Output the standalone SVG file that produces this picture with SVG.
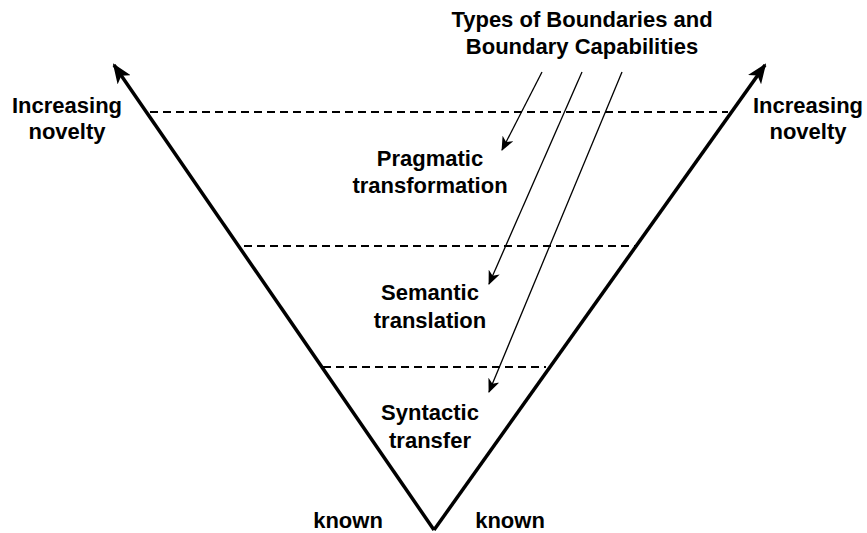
<svg xmlns="http://www.w3.org/2000/svg" width="867" height="533" viewBox="0 0 867 533">
  <style>
    text { font-family: "Liberation Sans", Arial, sans-serif; font-weight: bold; fill: #000; text-anchor: middle; font-size: 22px; }
    .axis { stroke: #000; stroke-width: 3.5; fill: none; }
    .level { stroke: #000; stroke-width: 2; stroke-dasharray: 8 5; fill: none; }
    .pointer { stroke: #000; stroke-width: 1.3; fill: none; }
  </style>
  <defs>
    <marker id="bigHead" viewBox="0 0 20 16" refX="18" refY="8" markerWidth="20" markerHeight="16" markerUnits="userSpaceOnUse" orient="auto">
      <path d="M0,0 L20,8 L0,16 L5,8 Z" fill="#000"/>
    </marker>
    <marker id="smallHead" viewBox="0 0 14 12" refX="13" refY="6" markerWidth="14" markerHeight="12" markerUnits="userSpaceOnUse" orient="auto">
      <path d="M0,0 L14,6 L0,12 L4,6 Z" fill="#000"/>
    </marker>
  </defs>

  <!-- V-shaped axes -->
  <g id="axes">
    <line class="axis" x1="434" y1="530" x2="114" y2="65" marker-end="url(#bigHead)"/>
    <line class="axis" x1="434" y1="530" x2="765" y2="65" marker-end="url(#bigHead)"/>
  </g>

  <!-- boundary levels -->
  <g id="levels">
    <line class="level" x1="150" y1="112" x2="728" y2="112"/>
    <line class="level" x1="244" y1="246" x2="636" y2="246"/>
    <line class="level" x1="323" y1="367" x2="546" y2="367"/>
  </g>

  <!-- connectors from the title to each level -->
  <g id="connectors">
    <line class="pointer" x1="542" y1="72" x2="502" y2="150" marker-end="url(#smallHead)"/>
    <line class="pointer" x1="582" y1="72" x2="489" y2="284" marker-end="url(#smallHead)"/>
    <line class="pointer" x1="622" y1="72" x2="489" y2="392" marker-end="url(#smallHead)"/>
  </g>

  <g id="title">
    <text x="582" y="27">Types of Boundaries and</text>
    <text x="582" y="54">Boundary Capabilities</text>
  </g>

  <g id="novelty-left">
    <text x="67" y="113">Increasing</text>
    <text x="67" y="139">novelty</text>
  </g>
  <g id="novelty-right">
    <text x="808" y="113">Increasing</text>
    <text x="808" y="139">novelty</text>
  </g>

  <g id="pragmatic">
    <text x="430" y="166">Pragmatic</text>
    <text x="430" y="193">transformation</text>
  </g>
  <g id="semantic">
    <text x="430" y="300">Semantic</text>
    <text x="430" y="328">translation</text>
  </g>
  <g id="syntactic">
    <text x="430" y="420">Syntactic</text>
    <text x="430" y="448">transfer</text>
  </g>

  <g id="known-left">
    <text x="348" y="528">known</text>
  </g>
  <g id="known-right">
    <text x="510" y="528">known</text>
  </g>
</svg>
